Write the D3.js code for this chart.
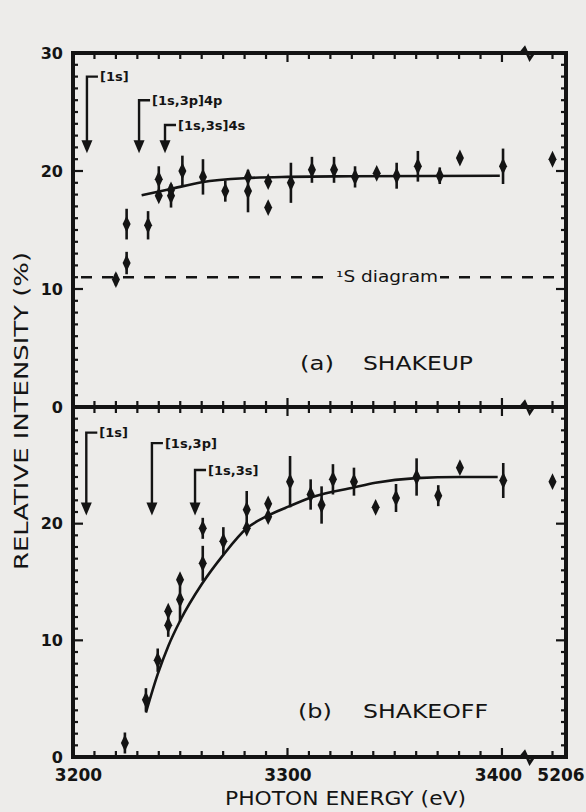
<!DOCTYPE html>
<html><head><meta charset="utf-8">
<script src="https://cdn.jsdelivr.net/npm/d3@7"></script>
<style>
html,body{margin:0;padding:0;background:#edecea;}
svg{display:block;}
text{font-family:"DejaVu Sans",sans-serif;fill:#141414;}
</style></head><body>
<svg id="chart" width="586" height="812"></svg>
<script>
// ---------- data ----------
// (a) shakeup
const shakeupEnergy = [3220, 3225, 3225, 3235, 3240, 3240, 3245.7, 3245.7, 3251, 3260.6, 3271, 3281.6, 3281.6, 3291, 3291, 3301.6, 3311.4, 3321.7, 3331.5, 3341.6, 3350.9, 3360.8, 3371, 3380.4, 3400.5, 5206];
const shakeupValue  = [10.8, 12.2, 15.5, 15.4, 17.9, 19.3, 17.9, 18.4, 20.0, 19.5, 18.3, 19.5, 18.3, 19.1, 16.9, 19.0, 20.1, 20.1, 19.5, 19.8, 19.6, 20.4, 19.6, 21.1, 20.4, 21.0];
const shakeupError  = [0.5, 0.95, 1.3, 1.2, 0, 1.1, 1.0, 0, 1.3, 1.5, 0.9, 0.4, 1.8, 0.3, 0, 1.7, 1.1, 1.1, 0.9, 0.3, 1.1, 1.3, 0.7, 0, 1.5, 0];
const shakeupFitEnergy = [3232, 3245, 3260, 3281, 3300, 3330, 3399];
const shakeupFitValue  = [17.95, 18.45, 19.05, 19.4, 19.5, 19.55, 19.6];
const diagramLevel = 11.0;

// (b) shakeoff
const shakeoffEnergy = [3224.2, 3234.0, 3239.5, 3244.4, 3244.4, 3249.9, 3249.9, 3260.5, 3260.5, 3270.1, 3281.0, 3281.0, 3291.0, 3291.0, 3301.2, 3310.8, 3315.9, 3321.2, 3331, 3341.1, 3350.6, 3360.2, 3370.3, 3380.4, 3400.6, 5206];
const shakeoffValue  = [1.2, 4.9, 8.3, 12.5, 11.3, 15.2, 13.5, 19.6, 16.6, 18.5, 21.2, 19.6, 21.7, 20.6, 23.6, 22.5, 21.6, 23.8, 23.6, 21.4, 22.2, 24.0, 22.4, 24.8, 23.7, 23.6];
const shakeoffError  = [0.9, 1.0, 1.0, 0, 1.0, 0, 1.9, 0.9, 1.5, 1.2, 1.6, 0, 0, 0, 2.2, 1.3, 1.6, 1.3, 1.2, 0, 1.2, 1.6, 0.9, 0, 1.5, 0];
const shakeoffFitEnergy = [3234, 3239.5, 3244.4, 3250, 3260, 3270, 3281, 3291, 3301, 3312, 3331, 3341, 3360, 3380, 3398];
const shakeoffFitValue  = [3.8, 7.1, 9.5, 11.7, 14.8, 17.3, 19.6, 20.7, 21.5, 22.3, 23.1, 23.5, 23.9, 24.0, 24.0];

// threshold annotations
const shakeupThresholdLabel  = ["[1s]", "[1s,3p]4p", "[1s,3s]4s"];
const shakeupThresholdEnergy = [3206.5, 3230.8, 3242.9];
const shakeupThresholdTop    = [28.0, 26.0, 23.9];
const shakeupThresholdTip    = 21.5;
const shakeoffThresholdLabel  = ["[1s]", "[1s,3p]", "[1s,3s]"];
const shakeoffThresholdEnergy = [3206.2, 3236.8, 3256.9];
const shakeoffThresholdTop    = [27.8, 26.9, 24.6];
const shakeoffThresholdTip    = 20.7;

// axes
const xTickValues = [3200, 3300, 3400, 5206];
const xTickLabels = ["3200", "3300", "3400", "5206"];
const xBreak = 3412;
const shakeupYTicks  = [0, 10, 20, 30];
const shakeoffYTicks = [0, 10, 20];

// ---------- drawing ----------
const ink = "#141414", paper = "#edecea";
const svg = d3.select("#chart");
const left = 73, right = 566;
const x = d3.scaleLinear().domain([3200, xBreak, 5206, 5212]).range([left, 527.7, 552.5, right]);
const yTop = d3.scaleLinear().domain([0, 30]).range([407, 53]);
const yBot = d3.scaleLinear().domain([0, 30]).range([757, 407]);
const minorX = d3.range(3200, 3401, 10).concat([5206]);
const minorY = d3.range(0, 31, 1);

function wideText(sel, len) {
  return sel.attr("textLength", len).attr("lengthAdjust", "spacingAndGlyphs");
}

function panel(y, yTicks, o) {
  const g = svg.append("g");
  const [y0, y1] = y.range();
  const tk = g.append("g").attr("stroke", ink).attr("stroke-width", 2.2);
  minorY.forEach(v => {
    const len = v % 10 === 0 ? 10 : 5;
    tk.append("line").attr("x1", left).attr("x2", left + len).attr("y1", y(v)).attr("y2", y(v));
    tk.append("line").attr("x1", right).attr("x2", right - len).attr("y1", y(v)).attr("y2", y(v));
  });
  minorX.forEach(e => {
    const len = (e === 3300 || e === 3400) ? 9 : 6;
    tk.append("line").attr("x1", x(e)).attr("x2", x(e)).attr("y1", y1).attr("y2", y1 + len);
    tk.append("line").attr("x1", x(e)).attr("x2", x(e)).attr("y1", y0).attr("y2", y0 - len);
  });
  g.append("rect").attr("x", left).attr("y", y1).attr("width", right - left).attr("height", y0 - y1)
    .attr("fill", "none").attr("stroke", ink).attr("stroke-width", 4);
  const ya = g.append("g").attr("transform", `translate(${left - 2},0)`)
    .call(d3.axisLeft(y).tickValues(yTicks).tickSize(0).tickPadding(8).tickFormat(d3.format("d")));
  ya.select(".domain").remove();
  ya.selectAll("text").style("font-size", "16px").style("font-weight", "bold").attr("fill", ink);

  const line = d3.line().x(d => x(d[0])).y(d => y(d[1])).curve(d3.curveMonotoneX);
  g.append("path").datum(o.fitE.map((e, i) => [e, o.fitV[i]]))
    .attr("d", line).attr("fill", "none").attr("stroke", ink).attr("stroke-width", 2.6);

  g.append("g").selectAll("line").data(o.E.map((e, i) => [e, o.V[i], o.Err[i]]).filter(d => d[2] > 0))
    .join("line").attr("x1", d => x(d[0])).attr("x2", d => x(d[0]))
    .attr("y1", d => y(d[1] - d[2])).attr("y2", d => y(d[1] + d[2]))
    .attr("stroke", ink).attr("stroke-width", 2.6);
  const sym = d3.symbol().type(d3.symbolDiamond).size(62);
  g.append("g").selectAll("path").data(o.E.map((e, i) => [e, o.V[i]]))
    .join("path").attr("d", sym).attr("transform", d => `translate(${x(d[0])},${y(d[1])}) scale(0.95,1.15)`)
    .attr("fill", ink);

  o.tLabel.forEach((lab, i) => {
    const xe = x(o.tE[i]), yt = y(o.tTop[i]), yp = y(o.tTip);
    g.append("path").attr("d", `M${xe + 11},${yt} L${xe},${yt} L${xe},${yp - 10}`)
      .attr("fill", "none").attr("stroke", ink).attr("stroke-width", 2.4);
    g.append("path").attr("d", `M${xe - 5.5},${yp - 13} L${xe + 5.5},${yp - 13} L${xe},${yp} Z`).attr("fill", ink);
    g.append("text").attr("x", xe + 13).attr("y", yt).attr("dy", "0.35em")
      .style("font-size", "13px").style("font-weight", "bold").text(lab);
  });

  // panel label
  wideText(g.append("text").attr("x", o.tagX).attr("y", y(o.labelV)).attr("dy", "0.36em")
    .style("font-size", "19px").text(o.tag), 34);
  wideText(g.append("text").attr("x", 363).attr("y", y(o.labelV)).attr("dy", "0.36em")
    .style("font-size", "19px").text(o.name), o.nameLen);
  return g;
}

panel(yTop, shakeupYTicks, {
  E: shakeupEnergy, V: shakeupValue, Err: shakeupError,
  fitE: shakeupFitEnergy, fitV: shakeupFitValue,
  tLabel: shakeupThresholdLabel, tE: shakeupThresholdEnergy, tTop: shakeupThresholdTop, tTip: shakeupThresholdTip,
  tag: "(a)", name: "SHAKEUP", tagX: 300, nameLen: 110, labelV: 3.7
});
panel(yBot, shakeoffYTicks, {
  E: shakeoffEnergy, V: shakeoffValue, Err: shakeoffError,
  fitE: shakeoffFitEnergy, fitV: shakeoffFitValue,
  tLabel: shakeoffThresholdLabel, tE: shakeoffThresholdEnergy, tTop: shakeoffThresholdTop, tTip: shakeoffThresholdTip,
  tag: "(b)", name: "SHAKEOFF", tagX: 298, nameLen: 125, labelV: 3.9
});

// 1S diagram dashed line
svg.append("line").attr("x1", left + 8).attr("x2", right - 4)
  .attr("y1", yTop(diagramLevel)).attr("y2", yTop(diagramLevel))
  .attr("stroke", ink).attr("stroke-width", 2.4).attr("stroke-dasharray", "11,10");
const dg = wideText(svg.append("text").attr("x", 336).attr("y", yTop(diagramLevel)).attr("dy", "0.33em")
  .style("font-size", "16px").text("\u00B9S diagram"), 102);
const bb = dg.node().getBBox();
svg.append("rect").attr("x", bb.x - 3).attr("y", bb.y + 2).attr("width", bb.width + 5).attr("height", bb.height - 4)
  .attr("fill", paper);
dg.raise();

// axis breaks
[53, 407, 757].forEach(yy => {
  const xb = x(xBreak);
  svg.append("path").attr("d", `M${xb - 7},${yy} L${xb - 3},${yy - 5} L${xb + 2},${yy + 6} L${xb + 6},${yy}`)
    .attr("fill", "none").attr("stroke", ink).attr("stroke-width", 3);
});

// x tick labels
const xa = svg.append("g").attr("transform", "translate(0,761)")
  .call(d3.axisBottom(x).tickValues(xTickValues).tickSize(0).tickPadding(8)
    .tickFormat((d, i) => xTickLabels[i]));
xa.select(".domain").remove();
xa.selectAll("text").style("font-size", "17px").style("font-weight", "bold").attr("fill", ink)
  .attr("dx", d => d === 5206 ? 8 : (d === 3400 ? -4 : (d === 3200 ? 5 : 0)));

// axis titles
wideText(svg.append("text").attr("x", 225).attr("y", 798).attr("dy", "0.36em")
  .style("font-size", "20px").text("PHOTON ENERGY (eV)"), 241);
wideText(svg.append("text").attr("transform", "translate(21,570) rotate(-90)").attr("dy", "0.36em")
  .style("font-size", "20px").text("RELATIVE INTENSITY (%)"), 318);
</script>
</body></html>
